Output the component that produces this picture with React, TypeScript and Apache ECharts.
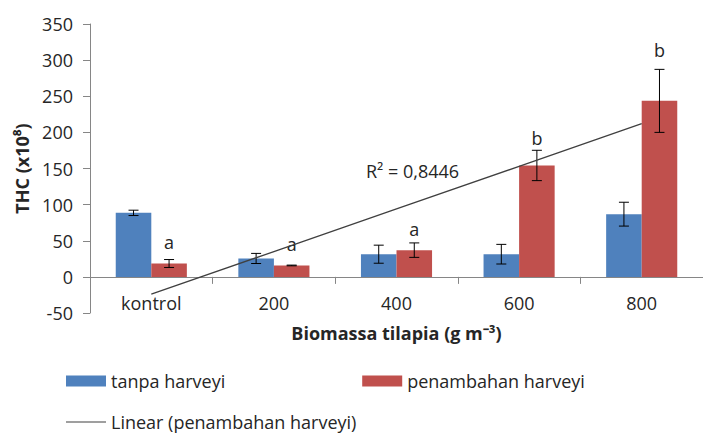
import React, { useEffect, useRef } from "react";
import * as echarts from "echarts";

const categories = ["kontrol", "200", "400", "600", "800"];
const tanpaHarveyi = [88.6, 25.5, 31.4, 31.4, 86.8];
const tanpaErr = [3.7, 7, 12.5, 13.6, 16.5];
const penambahanHarveyi = [18.5, 15.8, 37, 154.2, 243.6];
const penambahanErr = [5.5, 0.5, 10, 21, 43.6];
const trendLinear = [-24, 35, 94, 153, 212];
const letters = ["a", "a", "a", "b", "b"];
const letterLevels = [48, 46, 66, 192, 314];
const yMin = -50;
const yMax = 350;
const yInterval = 50;

const FONT = "'Open Sans', sans-serif";
const TEXT = "#262626";
const BLUE = "#4F81BD";
const RED = "#C0504D";
const GAP = 0.42;

function errSeries(values: number[], errs: number[], side: number) {
  return {
    type: "custom",
    silent: true,
    clip: false,
    z: 5,
    encode: { x: 0, y: [1, 2] },
    data: values.map((v, i) => [i, v - errs[i], v + errs[i]]),
    renderItem: (params: any, api: any) => {
      const idx = api.value(0);
      const lo = api.coord([idx, api.value(1)]);
      const hi = api.coord([idx, api.value(2)]);
      const band = api.size([1, 0])[0];
      const barW = (band * (1 - GAP)) / 2;
      const x = lo[0] + (side * barW) / 2;
      const cap = 5;
      const st = { stroke: "#000", lineWidth: 1 };
      return {
        type: "group",
        children: [
          { type: "line", shape: { x1: x, y1: lo[1], x2: x, y2: hi[1] }, style: st },
          { type: "line", shape: { x1: x - cap, y1: lo[1], x2: x + cap, y2: lo[1] }, style: st },
          { type: "line", shape: { x1: x - cap, y1: hi[1], x2: x + cap, y2: hi[1] }, style: st },
        ],
      };
    },
  };
}

export default function App() {
  const ref = useRef<HTMLDivElement>(null);
  useEffect(() => {
    document.body.style.margin = "0";
    const chart = echarts.init(ref.current as HTMLDivElement, null, { renderer: "svg" });
    const option: any = {
      animation: false,
      textStyle: { fontFamily: FONT },
      grid: { left: 90, width: 620, top: 24, height: 289, containLabel: false },
      legend: [
        {
          left: 66,
          top: 372,
          padding: 0,
          itemWidth: 40,
          itemHeight: 11,
          itemGap: 137,
          icon: "rect",
          textStyle: { fontFamily: FONT, fontSize: 18, color: TEXT },
          data: ["tanpa harveyi", "penambahan harveyi"],
        },
        {
          left: 66,
          top: 413,
          padding: 0,
          itemWidth: 40,
          itemHeight: 1.2,
          icon: "rect",
          textStyle: { fontFamily: FONT, fontSize: 18, color: TEXT },
          data: ["Linear (penambahan harveyi)"],
        },
      ],
      xAxis: {
        type: "category",
        data: categories,
        name: "Biomassa tilapia (g m⁻³)",
        nameLocation: "middle",
        nameGap: 11,
        nameTextStyle: { fontFamily: FONT, fontSize: 18, fontWeight: "bold", color: TEXT },
        axisLine: { onZero: true, lineStyle: { color: "#868686", width: 1 } },
        axisTick: { show: true, length: 7, lineStyle: { color: "#868686" } },
        axisLabel: { fontFamily: FONT, fontSize: 18, color: TEXT, margin: -19 },
        splitLine: { show: false },
      },
      yAxis: {
        type: "value",
        min: yMin,
        max: yMax,
        interval: yInterval,
        name: "THC (x10⁸)",
        nameLocation: "middle",
        nameGap: 58,
        nameRotate: 90,
        nameTextStyle: { fontFamily: FONT, fontSize: 18, fontWeight: "bold", color: TEXT },
        axisLine: { show: true, lineStyle: { color: "#868686", width: 1 } },
        axisTick: { show: true, length: 7, lineStyle: { color: "#868686" } },
        axisLabel: { fontFamily: FONT, fontSize: 18, color: TEXT, margin: 17 },
        splitLine: { show: false },
      },
      series: [
        {
          name: "tanpa harveyi",
          type: "bar",
          data: tanpaHarveyi,
          barGap: "0%",
          barCategoryGap: GAP * 100 + "%",
          itemStyle: { color: BLUE },
        },
        {
          name: "penambahan harveyi",
          type: "bar",
          data: penambahanHarveyi,
          itemStyle: { color: RED },
        },
        errSeries(tanpaHarveyi, tanpaErr, -1),
        errSeries(penambahanHarveyi, penambahanErr, 1),
        {
          type: "custom",
          silent: true,
          clip: false,
          z: 6,
          encode: { x: 0, y: 1 },
          data: letterLevels.map((v, i) => [i, v]),
          renderItem: (params: any, api: any) => {
            const idx = api.value(0);
            const p = api.coord([idx, api.value(1)]);
            const band = api.size([1, 0])[0];
            const barW = (band * (1 - GAP)) / 2;
            return {
              type: "text",
              x: p[0] + barW / 2,
              y: p[1],
              style: {
                text: letters[params.dataIndex],
                fontFamily: FONT,
                fontSize: 18,
                fill: TEXT,
                align: "center",
                verticalAlign: "middle",
              },
            };
          },
        },
        {
          name: "Linear (penambahan harveyi)",
          type: "line",
          data: trendLinear,
          symbol: "none",
          z: 7,
          color: "#404040",
          lineStyle: { color: "#404040", width: 1.3 },
        },
      ],
      graphic: [
        {
          type: "text",
          left: 366,
          top: 162,
          style: { text: "R² = 0,8446", fontFamily: FONT, fontSize: 18, fill: TEXT },
        },
      ],
    };
    chart.setOption(option);
    return () => chart.dispose();
  }, []);
  return <div ref={ref} style={{ width: 703, height: 435 }} />;
}
